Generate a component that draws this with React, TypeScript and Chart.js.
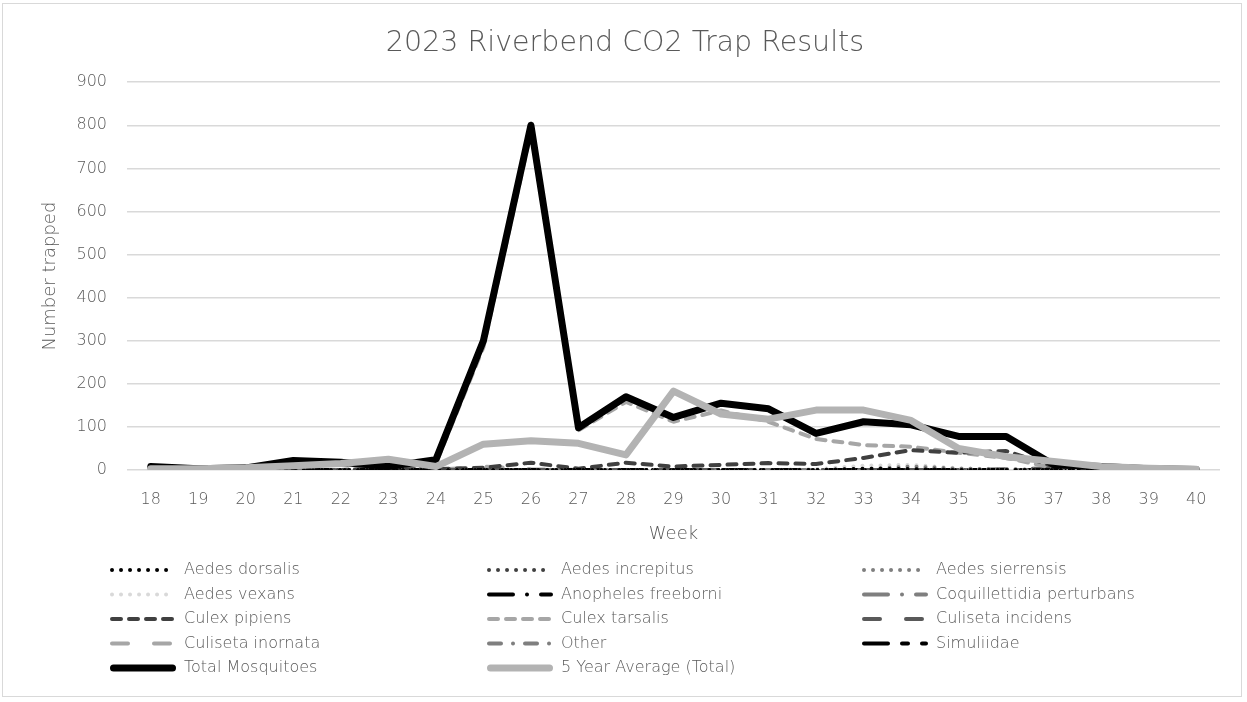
import React, { useEffect, useRef } from "react";
import { Chart, registerables } from "chart.js";

Chart.register(...registerables);

const weeks = ["18","19","20","21","22","23","24","25","26","27","28","29","30","31","32","33","34","35","36","37","38","39","40"];

const aedesDorsalis     = [0,0,0,0,0,0,0,0,0,0,0,0,0,0,0,3,2,0,0,0,0,0,0];
const aedesIncrepitus   = [0,0,0,0,0,0,0,0,0,0,0,0,0,0,0,0,0,0,0,0,0,0,0];
const aedesSierrensis   = [0,0,0,0,0,0,0,0,0,0,0,0,0,0,0,2,8,3,2,0,0,0,0];
const aedesVexans       = [0,0,0,0,0,0,0,0,0,0,0,0,0,0,2,10,12,4,2,0,0,0,0];
const anophelesFreeborni= [0,0,0,0,0,0,0,0,0,0,0,0,0,0,0,0,0,0,0,0,0,0,0];
const coquillettidia    = [0,0,0,0,0,0,0,0,0,0,0,0,0,0,0,0,0,0,0,0,0,0,0];
const culexPipiens      = [0,0,0,0,0,2,2,5,17,3,17,8,12,16,14,28,46,40,44,8,3,1,0];
const culexTarsalis     = [5,2,3,15,12,4,15,285,785,92,158,112,138,112,72,58,54,40,28,5,3,1,0];
const culisetaIncidens  = [0,0,0,0,0,0,0,0,0,0,0,0,0,0,0,0,0,0,2,4,0,0,0];
const culisetaInornata  = [0,0,0,0,0,0,0,8,2,0,0,0,0,0,0,0,0,0,0,0,0,0,0];
const other             = [0,0,0,0,0,0,0,0,0,0,0,0,0,0,0,0,0,0,0,0,0,0,0];
const simuliidae        = [0,0,0,0,0,3,2,0,0,0,0,0,0,0,0,0,0,0,0,0,0,0,0];
const totalMosquitoes   = [8,3,5,22,18,8,24,300,800,98,170,122,155,142,85,112,105,78,78,12,8,3,1];
const fiveYearAverage   = [3,3,5,10,15,25,8,60,68,62,35,183,130,118,139,139,115,50,31,20,8,4,2];

const legendRows = [
  ["Aedes dorsalis", "Aedes increpitus", "Aedes sierrensis"],
  ["Aedes vexans", "Anopheles freeborni", "Coquillettidia perturbans"],
  ["Culex pipiens", "Culex tarsalis", "Culiseta incidens"],
  ["Culiseta inornata", "Other", "Simuliidae"],
  ["Total Mosquitoes", "5 Year Average (Total)"],
];

const FONT = "'DejaVu Sans', sans-serif";
const WEIGHT = "200";
const GREY = "#595959";

const DOT = [0.01, 9];
const DASH = [9, 8];
const LONGDASH = [16, 26];
const LONGDASHDOT = [24, 14, 0.01, 14];
const DASHDOT = [12, 12, 0.01, 12];
const LONGDASHSHORT = [24, 14, 6, 14];

function ds(label: string, data: number[], color: string, dash: number[], width = 4, order = 3) {
  return {
    label,
    data,
    borderColor: color,
    backgroundColor: color,
    borderDash: dash,
    borderWidth: width,
    borderCapStyle: "round" as const,
    borderJoinStyle: "round" as const,
    pointRadius: 0,
    tension: 0,
    fill: false,
    order,
  };
}

const legendPlugin = {
  id: "gridLegend",
  afterDraw(chart: any) {
    const ctx = chart.ctx;
    const byLabel: Record<string, any> = {};
    chart.data.datasets.forEach((d: any) => (byLabel[d.label] = d));
    const top = chart.chartArea.bottom + 100;
    const rowH = 24.5;
    const colX = [110, 487, 862];
    const sampleW = 66;
    ctx.save();
    ctx.font = `${WEIGHT} 16px ${FONT}`;
    ctx.textBaseline = "middle";
    legendRows.forEach((row, r) => {
      row.forEach((label, c) => {
        const d = byLabel[label];
        const y = top + r * rowH;
        const x = colX[c];
        ctx.save();
        ctx.strokeStyle = d.borderColor;
        ctx.lineWidth = d.borderWidth;
        ctx.lineCap = "round";
        ctx.setLineDash(d.borderDash);
        ctx.beginPath();
        ctx.moveTo(x + d.borderWidth / 2, y);
        ctx.lineTo(x + sampleW - d.borderWidth / 2, y);
        ctx.stroke();
        ctx.restore();
        ctx.fillStyle = GREY;
        ctx.fillText(label, x + sampleW + 8, y);
      });
    });
    ctx.restore();
  },
};

export default function App() {
  const ref = useRef<HTMLCanvasElement>(null);
  useEffect(() => {
    document.body.style.margin = "0";
    const chart = new Chart(ref.current!, {
      type: "line",
      data: {
        labels: weeks,
        datasets: [
          ds("Aedes dorsalis", aedesDorsalis, "#000000", DOT),
          ds("Aedes increpitus", aedesIncrepitus, "#404040", DOT),
          ds("Aedes sierrensis", aedesSierrensis, "#7f7f7f", DOT),
          ds("Aedes vexans", aedesVexans, "#d9d9d9", DOT),
          ds("Anopheles freeborni", anophelesFreeborni, "#000000", LONGDASHDOT),
          ds("Coquillettidia perturbans", coquillettidia, "#7f7f7f", LONGDASHDOT),
          ds("Culex pipiens", culexPipiens, "#404040", DASH),
          ds("Culex tarsalis", culexTarsalis, "#a6a6a6", DASH),
          ds("Culiseta incidens", culisetaIncidens, "#595959", LONGDASH),
          ds("Culiseta inornata", culisetaInornata, "#a6a6a6", LONGDASH),
          ds("Other", other, "#7f7f7f", DASHDOT),
          ds("Simuliidae", simuliidae, "#000000", LONGDASHSHORT),
          ds("Total Mosquitoes", totalMosquitoes, "#000000", [], 7, 1),
          ds("5 Year Average (Total)", fiveYearAverage, "#b3b3b3", [], 7, 0),
        ],
      },
      options: {
        animation: false,
        responsive: true,
        maintainAspectRatio: false,
        layout: { padding: { left: 30, right: 27, top: 0, bottom: 157 } },
        plugins: {
          legend: { display: false },
          tooltip: { enabled: false },
          title: {
            display: true,
            text: "2023 Riverbend CO2 Trap Results",
            color: GREY,
            font: { family: FONT, size: 28.5, weight: WEIGHT as any },
            padding: { top: 26, bottom: 22 },
          },
        },
        scales: {
          x: {
            offset: true,
            grid: { display: false },
            border: { display: false },
            ticks: { color: GREY, font: { family: FONT, size: 16, weight: WEIGHT as any }, padding: 12, maxRotation: 0 },
            title: {
              display: true,
              text: "Week",
              color: GREY,
              font: { family: FONT, size: 18, weight: WEIGHT as any },
              padding: { top: 5, bottom: 0 },
            },
            afterFit: (s: any) => { s.height = 75; },
          },
          y: {
            min: 0,
            max: 900,
            ticks: { stepSize: 100, color: GREY, font: { family: FONT, size: 16, weight: WEIGHT as any }, padding: 20 },
            grid: { color: "#d9d9d9", lineWidth: 1.5, drawTicks: false },
            border: { display: false },
            title: {
              display: true,
              text: "Number trapped",
              color: GREY,
              font: { family: FONT, size: 18, weight: WEIGHT as any },
              padding: { top: 10, bottom: 2 },
            },
            afterFit: (s: any) => { s.width = 97; },
          },
        },
      },
      plugins: [legendPlugin],
    });
    return () => chart.destroy();
  }, []);
  return (
    <div style={{ position: "relative", width: 1247, height: 702, background: "#fff" }}>
      <div style={{ position: "absolute", left: 2, top: 3, width: 1240, height: 694, border: "1px solid #d9d9d9", boxSizing: "border-box", pointerEvents: "none" }} />
      <canvas ref={ref} />
    </div>
  );
}
